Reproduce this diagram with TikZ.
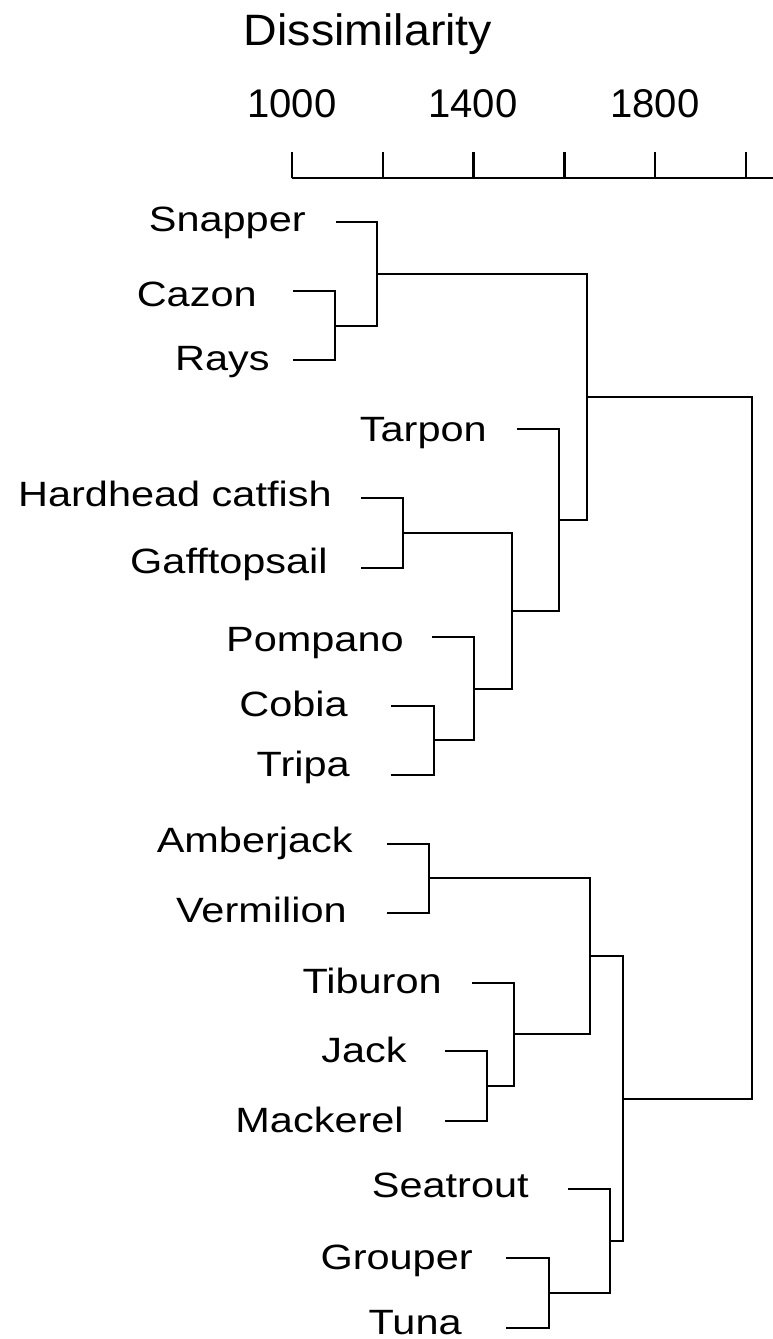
\documentclass[tikz,border=0pt]{standalone}
\usepackage{fontspec}
\setmainfont{Liberation Sans}
\newfontfamily\leaffont[FakeStretch=1.18]{Liberation Sans}
\newfontfamily\titlefont[FakeStretch=1.06]{Liberation Sans}
\usetikzlibrary{calc}

\begin{document}
\begin{tikzpicture}[x=0.02cm,y=-0.02cm,
    branch/.style={line width=1.3pt,line join=miter},
    leaflabel/.style={anchor=base east,inner sep=0pt,font=\leaffont\fontsize{20}{24}\selectfont},
    scalelabel/.style={anchor=base,inner sep=0pt,font=\fontsize{22.8}{27}\selectfont}]

    \useasboundingbox (0,0) rectangle (773,1339);

    % Drawing scale
    \node[anchor=base,inner sep=0pt,font=\titlefont\fontsize{25}{30}\selectfont] (title) at (368,45) {Dissimilarity};
    \node[scalelabel] (s1000) at (292,117) {1000};
    \node[scalelabel] (s1400) at (473,117) {1400};
    \node[scalelabel] (s1800) at (655,117) {1800};
    \coordinate (axisL) at (292,178);
    \coordinate (axisR) at (773,178);
    \draw[branch] (axisL) -- (axisR);
    \foreach \i in {0,...,5}
        \draw[branch] ({292+90.8*\i},178) -- ({292+90.8*\i},152);

    % Marking leaves
    \coordinate (snapper) at (336,222);   \node[leaflabel] (snapper-lbl) at (306,231) {Snapper};
    \coordinate (cazon) at (293,291);     \node[leaflabel] (cazon-lbl) at (257,306) {Cazon};
    \coordinate (rays) at (293,360);      \node[leaflabel] (rays-lbl) at (270,370) {Rays};
    \coordinate (tarpon) at (517,429);    \node[leaflabel] (tarpon-lbl) at (487,441) {Tarpon};
    \coordinate (hardhead) at (361,498);  \node[leaflabel] (hardhead-lbl) at (332,506) {Hardhead catfish};
    \coordinate (gaff) at (361,568);      \node[leaflabel] (gaff-lbl) at (328,573) {Gafftopsail};
    \coordinate (pompano) at (432,637);   \node[leaflabel] (pompano-lbl) at (404,651) {Pompano};
    \coordinate (cobia) at (391,706);     \node[leaflabel] (cobia-lbl) at (348,716) {Cobia};
    \coordinate (tripa) at (391,775);     \node[leaflabel] (tripa-lbl) at (350,776) {Tripa};
    \coordinate (amber) at (387,844);     \node[leaflabel] (amber-lbl) at (353,852) {Amberjack};
    \coordinate (vermil) at (387,913);    \node[leaflabel] (vermil-lbl) at (347,922) {Vermilion};
    \coordinate (tiburon) at (472,983);   \node[leaflabel] (tiburon-lbl) at (442,993) {Tiburon};
    \coordinate (jack) at (445,1051);     \node[leaflabel] (jack-lbl) at (407,1062) {Jack};
    \coordinate (mackerel) at (445,1121); \node[leaflabel] (mackerel-lbl) at (404,1132) {Mackerel};
    \coordinate (seatrout) at (568,1189); \node[leaflabel] (seatrout-lbl) at (529,1197) {Seatrout};
    \coordinate (grouper) at (506,1258);  \node[leaflabel] (grouper-lbl) at (473,1269) {Grouper};
    \coordinate (tuna) at (506,1328);     \node[leaflabel] (tuna-lbl) at (462,1334) {Tuna};

    % Drawing upper clusters
    \coordinate (cr) at (335,326);
    \draw[branch] (cazon) -| (cr) |- (rays);
    \coordinate (scr) at (377,274);
    \draw[branch] (snapper) -| (scr) |- (cr);
    \coordinate (hg) at (403,533);
    \draw[branch] (hardhead) -| (hg) |- (gaff);
    \coordinate (ct) at (434,740);
    \draw[branch] (cobia) -| (ct) |- (tripa);
    \coordinate (pct) at (474,689);
    \draw[branch] (pompano) -| (pct) |- (ct);
    \coordinate (hgpct) at (512,611);
    \draw[branch] (hg) -| (hgpct) |- (pct);
    \coordinate (thp) at (559,520);
    \draw[branch] (tarpon) -| (thp) |- (hgpct);
    \coordinate (top) at (587,397);
    \draw[branch] (scr) -| (top) |- (thp);

    % Drawing lower clusters
    \coordinate (av) at (429,878);
    \draw[branch] (amber) -| (av) |- (vermil);
    \coordinate (jm) at (487,1086);
    \draw[branch] (jack) -| (jm) |- (mackerel);
    \coordinate (tjm) at (514,1034);
    \draw[branch] (tiburon) -| (tjm) |- (jm);
    \coordinate (avtjm) at (590,956);
    \draw[branch] (av) -| (avtjm) |- (tjm);
    \coordinate (gt) at (549,1293);
    \draw[branch] (grouper) -| (gt) |- (tuna);
    \coordinate (sgt) at (610,1241);
    \draw[branch] (seatrout) -| (sgt) |- (gt);
    \coordinate (bottom) at (623,1099);
    \draw[branch] (avtjm) -| (bottom) |- (sgt);

    % Drawing root
    \coordinate (root) at (752,748);
    \draw[branch] (top) -| (root) |- (bottom);
\end{tikzpicture}
\end{document}
